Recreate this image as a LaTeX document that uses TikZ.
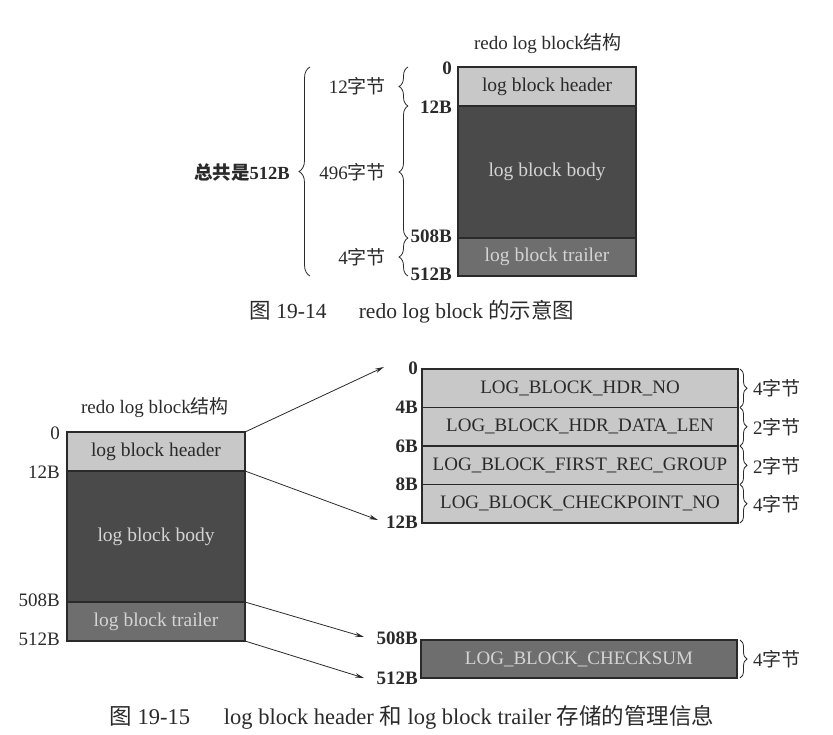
\documentclass[tikz,border=0pt]{standalone}
\usepackage{fontspec}
\setmainfont{Liberation Serif}
\newfontfamily\cjk{Noto Sans CJK SC}
\usetikzlibrary{decorations.pathreplacing,arrows.meta}
\definecolor{lightblk}{HTML}{C8C8C8}
\definecolor{darkblk}{HTML}{4A4A4A}
\definecolor{midblk}{HTML}{6E6E6E}
\definecolor{txtlight}{HTML}{D4D4D4}
\definecolor{ink}{HTML}{2A2A2A}
\begin{document}
\begin{tikzpicture}[x=1pt,y=-1pt,
  blk/.style={draw=ink, line width=1.1pt, anchor=north west, inner sep=0pt, outer sep=0pt, font=\fontsize{19.5}{22}\selectfont},
  hdr/.style={blk, fill=lightblk, text=ink},
  bodyb/.style={blk, fill=darkblk, text=txtlight},
  trl/.style={blk, fill=midblk, text=txtlight},
  fld/.style={blk, fill=lightblk, text=ink, minimum width=316pt, minimum height=38.5pt, font=\fontsize{19}{22}\selectfont},
  off/.style={anchor=east, inner sep=0pt, text=ink, font=\fontsize{19}{22}\selectfont},
  offb/.style={off, font=\fontsize{19}{22}\selectfont\bfseries},
  sz/.style={inner sep=0pt, text=ink, font=\fontsize{19}{22}\selectfont},
  titletext/.style={inner sep=0pt, text=ink, font=\fontsize{19}{22}\selectfont},
  captext/.style={inner sep=0pt, text=ink, font=\fontsize{21.5}{24}\selectfont},
  brc/.style={draw=ink, line width=0.8pt, decorate},
  arr/.style={draw=ink, line width=0.8pt, -{Stealth[length=9pt,width=4.5pt]}}
]
\useasboundingbox (0,0) rectangle (833,734);

% ---------- Figure 19-14 ----------
\node[titletext] (t1) at (548,44) {redo log block{\cjk 结构}};
\node[hdr, minimum width=178pt, minimum height=39pt] (h1) at (458,67) {log block header};
\node[bodyb, minimum width=178pt, minimum height=132pt] (b1) at (458,106) {log block body};
\node[trl, minimum width=178pt, minimum height=38pt] (r1) at (458,238) {log block trailer};

\node[offb] (o10) at (452,68) {0};
\node[offb] (o11) at (452,107) {12B};
\node[offb] (o12) at (452,236) {508B};
\node[offb] (o13) at (452,274) {512B};

\draw[brc, decoration={brace, amplitude=9pt}] (408,106) -- (408,67);
\draw[brc, decoration={brace, amplitude=9pt}] (408,238) -- (408,106);
\draw[brc, decoration={brace, amplitude=9pt}] (408,276) -- (408,238);
\draw[brc, decoration={brace, amplitude=11pt}] (310,276) -- (310,67);

\node[sz, anchor=east] (s11) at (386,86) {12{\cjk 字节}};
\node[sz, anchor=east] (s12) at (386,172) {496{\cjk 字节}};
\node[sz, anchor=east] (s13) at (386,257) {4{\cjk 字节}};
\node[sz, anchor=east, font=\fontsize{18.5}{22}\selectfont\bfseries] (s14) at (290,172) {{\cjk 总共是}512B};

\node[captext] (c1) at (412,312) {{\cjk 图}\ 19-14\quad\ \ redo log block {\cjk 的示意图}};

% ---------- Figure 19-15 ----------
\node[titletext] (t2) at (155,408) {redo log block{\cjk 结构}};
\node[hdr, minimum width=178pt, minimum height=39pt] (h2) at (67,432) {log block header};
\node[bodyb, minimum width=178pt, minimum height=131pt] (b2) at (67,471) {log block body};
\node[trl, minimum width=178pt, minimum height=39pt] (r2) at (67,602) {log block trailer};

\node[off] (o20) at (60,433) {0};
\node[off] (o21) at (60,472) {12B};
\node[off] (o22) at (60,600) {508B};
\node[off] (o23) at (60,639) {512B};

\node[fld] (f1) at (422,369) {LOG\_BLOCK\_HDR\_NO};
\node[fld] (f2) at (422,407.5) {LOG\_BLOCK\_HDR\_DATA\_LEN};
\node[fld] (f3) at (422,446) {LOG\_BLOCK\_FIRST\_REC\_GROUP};
\node[fld] (f4) at (422,484.5) {LOG\_BLOCK\_CHECKPOINT\_NO};
\node[fld, fill=midblk, text=txtlight, minimum height=38pt] (f5) at (421,640) {LOG\_BLOCK\_CHECKSUM};

\node[offb] (p0) at (418,368) {0};
\node[offb] (p1) at (418,407) {4B};
\node[offb] (p2) at (418,446) {6B};
\node[offb] (p3) at (418,484) {8B};
\node[offb] (p4) at (418,522) {12B};
\node[offb] (p5) at (418,638) {508B};
\node[offb] (p6) at (418,678) {512B};

\coordinate (e0) at (384,367);
\coordinate (e1) at (378,520);
\coordinate (e2) at (364,637);
\coordinate (e3) at (364,678);
\draw[arr] (h2.north east) -- (e0);
\draw[arr] (h2.south east) -- (e1);
\draw[arr] (r2.north east) -- (e2);
\draw[arr] (r2.south east) -- (e3);

\draw[brc, decoration={brace, amplitude=7pt}] (740,369) -- (740,407.5);
\draw[brc, decoration={brace, amplitude=7pt}] (740,407.5) -- (740,446);
\draw[brc, decoration={brace, amplitude=7pt}] (740,446) -- (740,484.5);
\draw[brc, decoration={brace, amplitude=7pt}] (740,484.5) -- (740,523);
\draw[brc, decoration={brace, amplitude=7pt}] (740,640) -- (740,678);

\node[sz, anchor=west] (q1) at (753,388) {4{\cjk 字节}};
\node[sz, anchor=west] (q2) at (753,427) {2{\cjk 字节}};
\node[sz, anchor=west] (q3) at (753,466) {2{\cjk 字节}};
\node[sz, anchor=west] (q4) at (753,504) {4{\cjk 字节}};
\node[sz, anchor=west] (q5) at (753,659) {4{\cjk 字节}};

\node[captext, font=\fontsize{22.5}{24}\selectfont] (c2) at (412,717) {{\cjk 图}\ 19-15\quad\ \ log block header {\cjk 和} log block trailer {\cjk 存储的管理信息}};
\end{tikzpicture}
\end{document}
